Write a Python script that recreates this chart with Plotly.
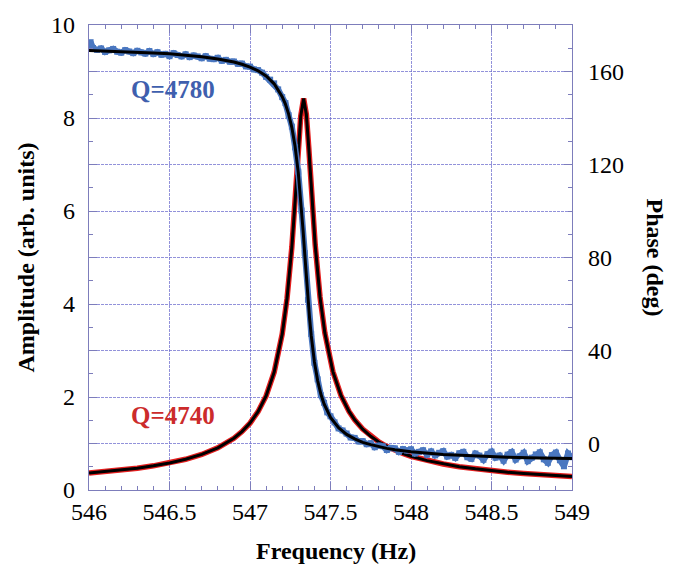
import plotly.graph_objects as go

# ---------------- data ----------------
# Amplitude (red data + black fit)
amp_freq = [546.0, 546.1, 546.2, 546.3, 546.4, 546.5, 546.6, 546.7, 546.8, 546.9, 546.95,
            547.0, 547.05, 547.1, 547.15, 547.2, 547.23, 547.26, 547.28, 547.3, 547.315,
            547.333, 547.35, 547.365, 547.385, 547.405, 547.435, 547.465, 547.515, 547.565,
            547.615, 547.65, 547.7, 547.75, 547.8, 547.85, 547.9, 547.95, 548.0, 548.1, 548.2,
            548.3, 548.4, 548.5, 548.6, 548.7, 548.8, 548.9, 549.0]
amp_vals = [0.364, 0.394, 0.429, 0.470, 0.520, 0.582, 0.661, 0.765, 0.907, 1.113, 1.256,
            1.438, 1.684, 2.024, 2.533, 3.352, 4.117, 5.224, 6.202, 7.309, 8.038,
            8.42, 8.077, 7.365, 6.257, 5.267, 4.148, 3.374, 2.546, 2.033,
            1.689, 1.509, 1.309, 1.155, 1.033, 0.935, 0.853, 0.785, 0.726, 0.632, 0.559,
            0.502, 0.455, 0.416, 0.383, 0.355, 0.331, 0.310, 0.291]

# Phase fit (black)
phase_fit_freq = [546.0, 546.1, 546.2, 546.3, 546.4, 546.5, 546.6, 546.7, 546.8, 546.9, 546.95,
                  547.0, 547.05, 547.1, 547.15, 547.2, 547.22, 547.24, 547.26, 547.28, 547.3,
                  547.31, 547.32, 547.33, 547.34, 547.35, 547.36, 547.37, 547.38, 547.4, 547.42,
                  547.44, 547.46, 547.48, 547.5, 547.55, 547.6, 547.65, 547.7, 547.75, 547.8,
                  547.85, 547.9, 547.95, 548.0, 548.2, 548.4, 548.6, 548.8, 549.0]
phase_fit = [169.05, 168.85, 168.6, 168.34, 168.0, 167.59, 167.1, 166.37, 165.4, 164.1, 163.1,
             161.9, 160.3, 158.1, 154.7, 149.2, 146.0, 141.7, 135.9, 127.8, 116.4,
             109.1, 100.7, 91.4, 81.5, 71.6, 62.3, 53.9, 46.6, 35.2, 27.1,
             21.3, 17.0, 13.8, 11.2, 6.8, 3.9, 2.0, 0.5, -0.5, -1.4,
             -2.1, -2.7, -3.1, -3.5, -4.7, -5.4, -5.9, -6.25, -6.5]

# Phase measured (blue, noisy)
phase_data_freq = [
    546.0, 546.01, 546.025, 546.05, 546.075, 546.1, 546.125, 546.15, 546.175, 546.2,
    546.225, 546.25, 546.275, 546.3, 546.325, 546.35, 546.375, 546.4, 546.425, 546.45,
    546.475, 546.5, 546.525, 546.55, 546.575, 546.6, 546.625, 546.65, 546.675, 546.7,
    546.725, 546.75, 546.775, 546.8, 546.825, 546.85, 546.875, 546.9, 546.925, 546.95,
    546.975, 547.0, 547.025, 547.05, 547.075, 547.1, 547.125, 547.15, 547.175, 547.2,
    547.22, 547.24, 547.26, 547.28, 547.3, 547.32, 547.34, 547.36, 547.38, 547.4,
    547.42, 547.44, 547.46, 547.48, 547.5, 547.525, 547.55, 547.575,
    547.6, 547.625, 547.65, 547.675, 547.7, 547.725, 547.75, 547.775, 547.8, 547.825,
    547.85, 547.875, 547.9, 547.925, 547.95, 547.975, 548.0, 548.025, 548.05, 548.075,
    548.1, 548.125, 548.15, 548.175, 548.2, 548.225, 548.25, 548.275, 548.3, 548.325,
    548.35, 548.375, 548.4, 548.425, 548.45, 548.475, 548.5, 548.525, 548.55, 548.575,
    548.6, 548.625, 548.65, 548.675, 548.7, 548.725, 548.75, 548.775, 548.8, 548.825,
    548.85, 548.875, 548.9, 548.925, 548.95, 548.975, 549.0]
phase_data = [
    170.4, 172.6, 170.1, 169.3, 169.9, 168.4, 169.1, 169.7, 168.5, 168.1,
    169.2, 168.6, 167.9, 168.9, 168.2, 167.7, 168.8, 167.5, 168.3, 167.2,
    167.6, 166.6, 167.9, 167.1, 166.5, 167.4, 166.2, 166.9, 166.5, 165.7,
    166.6, 165.5, 165.3, 165.9, 164.6, 165.0, 164.2, 164.3, 163.3, 163.4,
    162.2, 162.1, 160.9, 160.6, 159.5, 157.7, 156.5, 154.9, 152.3, 149.0,
    146.4, 141.2, 136.3, 127.4, 116.9, 100.2, 81.9, 61.8, 47.1, 34.7,
    27.6, 20.8, 17.5, 13.4, 11.7, 9.1, 6.5, 5.6,
    4.3, 2.6, 2.4, 0.9, 1.0, -0.3, 0.1, -1.6, -0.9, -1.2,
    -2.8, -1.9, -2.1, -3.6, -2.4, -3.0, -2.5, -4.3, -3.6, -2.9,
    -4.8, -3.4, -5.1, -4.0, -3.3, -5.6, -4.9, -6.2, -4.2, -3.6,
    -5.9, -6.6, -4.3, -5.2, -7.0, -4.6, -3.5, -6.1, -5.2, -7.4,
    -4.8, -3.7, -6.9, -5.5, -4.0, -7.6, -6.1, -4.7, -3.8, -6.8,
    -8.3, -5.0, -3.9, -7.2, -9.8, -4.3, -5.9]

amp_tickvals = [0, 1, 2, 3, 4, 5, 6, 7, 8, 9, 10]
amp_ticktext = ["0", "", "2", "", "4", "", "6", "", "8", "", "10"]
phase_tickvals = [0, 40, 80, 120, 160]
freq_tickvals = [546, 546.5, 547, 547.5, 548, 548.5, 549]
freq_ticktext = ["546", "546.5", "547", "547.5", "548", "548.5", "549"]

# ---------------- styling ----------------
SERIF = "Liberation Serif, Times New Roman, serif"
BLUE = "#4a77c0"
BLUE_TXT = "#3f5fae"
RED = "#e41e1e"
RED_TXT = "#cc2b2b"
GRID = "rgba(110,110,205,0.75)"
FRAME = "#7d7dbb"

fig = go.Figure()
fig.add_trace(go.Scatter(x=amp_freq, y=amp_vals, mode="lines",
                         line=dict(color=RED, width=5.5), hoverinfo="skip"))
fig.add_trace(go.Scatter(x=amp_freq, y=amp_vals, mode="lines",
                         line=dict(color="black", width=3), hoverinfo="skip"))
fig.add_trace(go.Scatter(x=phase_data_freq, y=phase_data, yaxis="y2", mode="lines+markers",
                         line=dict(color=BLUE, width=6),
                         marker=dict(symbol="square", size=6, color=BLUE), hoverinfo="skip"))
fig.add_trace(go.Scatter(x=phase_fit_freq, y=phase_fit, yaxis="y2", mode="lines",
                         line=dict(color="black", width=3), hoverinfo="skip"))

tickfont = dict(family=SERIF, size=24, color="black")

fig.update_layout(
    width=684, height=567,
    margin=dict(l=89, r=112, t=23, b=77),
    paper_bgcolor="white", plot_bgcolor="white",
    showlegend=False,
    xaxis=dict(range=[546, 549], tickvals=freq_tickvals, ticktext=freq_ticktext,
               ticks="inside", ticklen=8, tickcolor=FRAME, tickwidth=1,
               showgrid=True, gridcolor=GRID, griddash="3px,1px", gridwidth=1,
               showline=True, linecolor=FRAME, linewidth=1.2, mirror="ticks",
               zeroline=False, tickfont=tickfont, ticklabelstandoff=0,
               minor=dict(dtick=0.1, tick0=546, ticks="inside", ticklen=4,
                          tickcolor=FRAME, showgrid=False)),
    yaxis=dict(range=[0, 10], tickvals=amp_tickvals, ticktext=amp_ticktext,
               ticks="inside", ticklen=8, tickcolor=FRAME,
               showgrid=True, gridcolor=GRID, griddash="3px,1px", gridwidth=1,
               showline=True, linecolor=FRAME, linewidth=1.2,
               zeroline=False, tickfont=tickfont, ticklabelstandoff=8,
               minor=dict(dtick=0.5, tick0=0, ticks="inside", ticklen=4,
                          tickcolor=FRAME, showgrid=False)),
    yaxis2=dict(range=[-20, 180], overlaying="y", side="right",
                tickvals=phase_tickvals, ticks="inside", ticklen=8, tickcolor=FRAME,
                showgrid=False, showline=True, linecolor=FRAME, linewidth=1.2,
                zeroline=False, tickfont=tickfont, ticklabelstandoff=10,
                minor=dict(dtick=10, tick0=0, ticks="inside", ticklen=4,
                           tickcolor=FRAME, showgrid=False)),
    annotations=[
        dict(text="Q=4780", x=546.52, y=8.62, xref="x", yref="y", showarrow=False,
             font=dict(family=SERIF, size=25, color=BLUE_TXT, weight="bold")),
        dict(text="Q=4740", x=546.52, y=1.6, xref="x", yref="y", showarrow=False,
             font=dict(family=SERIF, size=25, color=RED_TXT, weight="bold")),
        dict(text="Frequency (Hz)", x=0.5, y=0, xref="paper", yref="paper",
             xanchor="center", yanchor="middle",
             yshift=-61, xshift=5, showarrow=False,
             font=dict(family=SERIF, size=24, color="black", weight="bold")),
        dict(text="Amplitude (arb. units)", x=0, y=0.5, xref="paper", yref="paper",
             xanchor="center", yanchor="middle",
             xshift=-64, textangle=-90, showarrow=False,
             font=dict(family=SERIF, size=24, color="black", weight="bold")),
        dict(text="Phase (deg)", x=1, y=0.5, xref="paper", yref="paper",
             xanchor="center", yanchor="middle",
             xshift=83, textangle=90, showarrow=False,
             font=dict(family=SERIF, size=24, color="black", weight="bold")),
    ],
)

fig.write_html("out.html")
